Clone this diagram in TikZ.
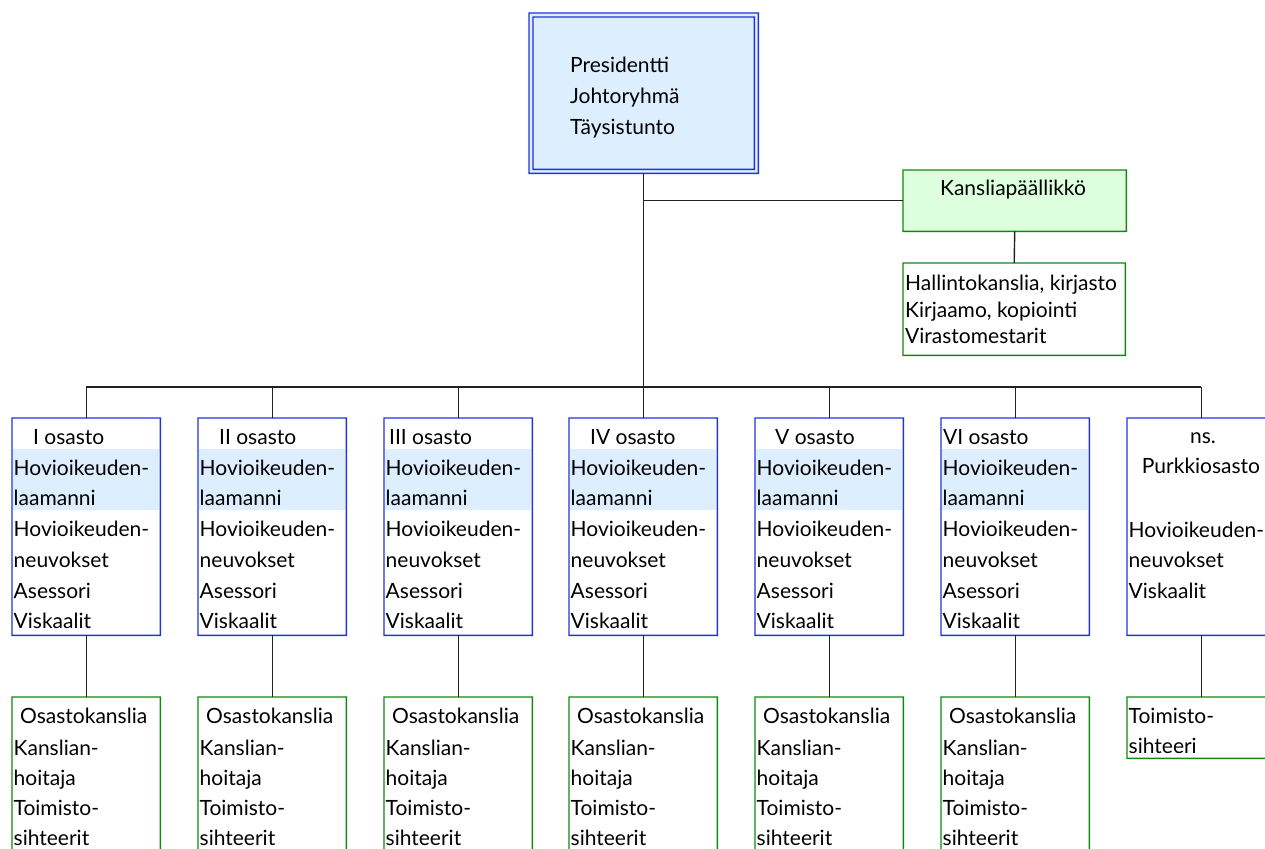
\documentclass[tikz,border=0pt]{standalone}
\usepackage{fontspec}
\setmainfont{Lato}
\definecolor{bordblue}{HTML}{2233DD}
\definecolor{fillblue}{HTML}{DDEEFF}
\definecolor{bordgreen}{HTML}{118811}
\definecolor{fillgreen}{HTML}{DDFFDD}
\definecolor{linegray}{HTML}{222222}
\tikzset{
  deptbox/.style={minimum width=148pt, minimum height=217pt, anchor=north west, inner sep=0pt},
  lowbox/.style={minimum width=148pt, minimum height=160pt, anchor=north west, inner sep=0pt},
  txt/.style={anchor=base west, inner sep=0pt, text=black, font=\fontsize{21}{25}\selectfont},
  ctxt/.style={anchor=base, inner sep=0pt, text=black, font=\fontsize{21}{25}\selectfont},
  conn/.style={draw, color=linegray, line width=1.4pt},
}
% frame of a node drawn as a filled ring: #1 node, #2 colour, #3 inset
\newcommand\myframeqq[3]{%
  \fill[#2, even odd rule]
    ([xshift=#3-0.7pt,yshift=-#3+0.7pt]#1.north west) rectangle ([xshift=-#3+0.7pt,yshift=#3-0.7pt]#1.south east)
    ([xshift=#3+0.7pt,yshift=-#3-0.7pt]#1.north west) rectangle ([xshift=-#3-0.7pt,yshift=#3+0.7pt]#1.south east);}
\begin{document}
\begin{tikzpicture}[x=1pt,y=-1pt]
\useasboundingbox (0,0) rectangle (1265,848);
\clip (0,0) rectangle (1265,848);
% top box
\node[fill=fillblue, minimum width=229pt, minimum height=160pt, anchor=north west, inner sep=0pt] (top) at (529,13) {};
\myframeqq{top}{bordblue}{0pt}
\myframeqq{top}{bordblue}{4pt}
\node[txt] (t1) at (570,73) {Presidentti};
\node[txt] (t2) at (570,104) {Johtoryhmä};
\node[txt] (t3) at (570,134) {Täysistunto};
% kanslia
\node[fill=fillgreen, minimum width=223pt, minimum height=61pt, anchor=north west, inner sep=0pt] (kp) at (903,170) {};
\myframeqq{kp}{bordgreen}{0pt}
\node[ctxt] (kpt) at (1013,195) {Kansliapäällikkö};
\node[minimum width=222pt, minimum height=92pt, anchor=north west, inner sep=0pt] (hal) at (903,263) {};
\myframeqq{hal}{bordgreen}{0pt}
\node[txt] (h1) at (905,290) {Hallintokanslia, kirjasto};
\node[txt] (h2) at (905,317) {Kirjaamo, kopiointi};
\node[txt] (h3) at (905,343) {Virastomestarit};
% bus
\coordinate (busL) at (86,387);
\coordinate (busR) at (1201,387);
\draw[conn] (busL) -- (busR);
\draw[conn] (top.south) -- (top.south |- busL);
\draw[conn] (top.south |- kp.west) -- (kp.west);
\draw[conn] (kp.south) -- (hal.north);
% departments
\foreach \i/\lx/\ttl/\tx in {0/12/I osasto/33, 1/198/II osasto/219, 2/384/III osasto/389, 3/569/IV osasto/590, 4/755/V osasto/775, 5/941/VI osasto/943} {
  \fill[color=fillblue] (\lx+1,449) rectangle (\lx+147,510);
  \node[deptbox] (d\i) at (\lx,418) {};
  \myframeqq{d\i}{bordblue}{0pt}
  \node[txt] (dt\i) at (\tx,444) {\ttl};
  \node[txt] (da\i) at (\lx+1.5,475) {Hovioikeuden-};
  \node[txt] (db\i) at (\lx+1.5,505) {laamanni};
  \node[txt] (dc\i) at (\lx+1.5,536) {Hovioikeuden-};
  \node[txt] (dd\i) at (\lx+1.5,567) {neuvokset};
  \node[txt] (de\i) at (\lx+1.5,598) {Asessori};
  \node[txt] (df\i) at (\lx+1.5,628) {Viskaalit};
  \draw[conn] (d\i.north) -- (d\i.north |- busL);
  \node[lowbox] (k\i) at (\lx,697) {};
  \myframeqq{k\i}{bordgreen}{0pt}
  \draw[conn] (d\i.south) -- (k\i.north);
  \node[txt] (ka\i) at (\lx+8,723) {Osastokanslia};
  \node[txt] (kb\i) at (\lx+1.5,755) {Kanslian-};
  \node[txt] (kc\i) at (\lx+1.5,785) {hoitaja};
  \node[txt] (kd\i) at (\lx+1.5,815) {Toimisto-};
  \node[txt] (ke\i) at (\lx+1.5,845) {sihteerit};
}
% purkkiosasto
\node[deptbox] (d6) at (1127,418) {};
\myframeqq{d6}{bordblue}{0pt}
\draw[conn] (d6.north) -- (d6.north |- busL);
\node[ctxt] (p1) at (1203,443) {ns.};
\node[ctxt] (p2) at (1201,473) {Purkkiosasto};
\node[txt] (p3) at (1128.5,537) {Hovioikeuden-};
\node[txt] (p4) at (1128.5,567) {neuvokset};
\node[txt] (p5) at (1128.5,598) {Viskaalit};
\node[minimum width=148pt, minimum height=61pt, anchor=north west, inner sep=0pt] (k6) at (1127,697) {};
\myframeqq{k6}{bordgreen}{0pt}
\draw[conn] (d6.south) -- (k6.north);
\node[txt] (q1) at (1128.5,723) {Toimisto-};
\node[txt] (q2) at (1128.5,753) {sihteeri};
\end{tikzpicture}
\end{document}
